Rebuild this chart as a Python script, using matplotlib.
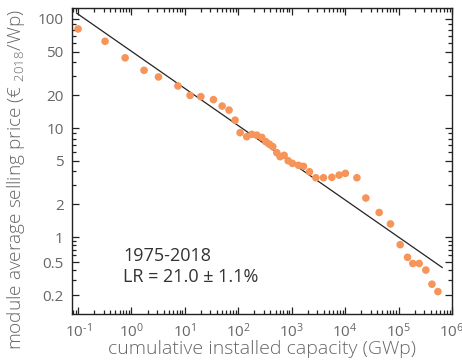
import numpy as np
import matplotlib
matplotlib.use("Agg")
from matplotlib import pyplot as plt
from matplotlib.ticker import FixedLocator, NullFormatter

plt.rcParams['font.family'] = ['Open Sans', 'DejaVu Sans']
plt.rcParams['mathtext.fontset'] = 'custom'
plt.rcParams['mathtext.rm'] = 'Open Sans'

# cumulative installed capacity (GWp) and module price (EUR2018/Wp)
capacity = [0.1, 0.32, 0.76, 1.72, 3.2, 7.4, 12.5, 19.9, 34.2, 49.8, 67, 87,
            108, 144, 179, 222, 275, 327, 383, 442, 526, 607, 721, 857,
            1030, 1340, 1660, 2150, 2830, 3930, 5640, 7720, 10100, 16600,
            24400, 43300, 70500, 107000, 147000, 185000, 243000, 324000,
            421000, 545000]
price = [81, 62.4, 44, 33.8, 29.4, 24.3, 19.9, 19.4, 18.2, 15.9, 14.6, 11.8,
         9.06, 8.32, 8.75, 8.6, 8.2, 7.5, 7.1, 6.74, 5.93, 5.46, 5.62, 5.01,
         4.74, 4.55, 4.45, 3.97, 3.5, 3.5, 3.53, 3.7, 3.84, 3.5,
         2.28, 1.68, 1.32, 0.81, 0.57, 0.48, 0.48, 0.40,
         0.27, 0.22]

# learning curve fit end points
fit_x = [0.094, 655000]
fit_y = [113, 0.43]

y_ticks = [0.2, 0.5, 1, 2, 5, 10, 20, 50, 100]
y_ticklabels = ['0.2', '0.5', '1', '2', '5', '10', '20', '50', '100']
x_ticks = [1e-1, 1e0, 1e1, 1e2, 1e3, 1e4, 1e5, 1e6]
x_ticklabels = [r'$\mathregular{10^{\text{-}1}}$', r'$\mathregular{10^{0}}$',
                r'$\mathregular{10^{1}}$', r'$\mathregular{10^{2}}$',
                r'$\mathregular{10^{3}}$', r'$\mathregular{10^{4}}$',
                r'$\mathregular{10^{5}}$', r'$\mathregular{10^{6}}$']

# the price axis is squeezed below 1
K = 0.76


def fwd(y):
    ly = np.log10(np.clip(y, 1e-6, None))
    return np.where(ly >= 0, ly, ly * K)


def inv(t):
    t = np.asarray(t, dtype=float)
    return np.where(t >= 0, 10 ** t, 10 ** (t / K))


fig = plt.figure(figsize=(4.62, 3.63), dpi=100)
ax = fig.add_axes([72 / 462, 49 / 363, 380 / 462, 306 / 363])

ax.set_xscale('log')
ax.set_yscale('function', functions=(fwd, inv))
ax.set_xlim(0.077, 1e6)
ax.set_ylim(0.118, 126)

ax.plot(fit_x, fit_y, color='#222222', lw=0.9, zorder=2)
ax.scatter(capacity, price, s=30, color='#F69459', edgecolors='none', zorder=3)

ax.yaxis.set_major_locator(FixedLocator(y_ticks))
ax.set_yticklabels(y_ticklabels)
minor_y = [m * 10.0 ** e for e in range(-1, 3) for m in range(1, 10)]
minor_y = [v for v in minor_y if v not in y_ticks and 0.118 < v < 126]
ax.yaxis.set_minor_locator(FixedLocator(minor_y))
ax.yaxis.set_minor_formatter(NullFormatter())

ax.xaxis.set_major_locator(FixedLocator(x_ticks))
ax.set_xticklabels(x_ticklabels)
minor_x = [m * 10.0 ** e for e in range(-2, 6) for m in range(2, 10)]
ax.xaxis.set_minor_locator(FixedLocator([v for v in minor_x if 0.077 < v < 1e6]))
ax.xaxis.set_minor_formatter(NullFormatter())

ax.tick_params(which='both', direction='in', top=True, right=True,
               colors='#222222', labelcolor='#666666', labelsize=11, width=0.9)
ax.tick_params(which='major', length=5, pad=6)
ax.tick_params(which='minor', length=3)
for sp in ax.spines.values():
    sp.set_color('#222222')
    sp.set_linewidth(1.0)

ax.set_xlabel('cumulative installed capacity (GWp)', fontsize=14,
              color='#666666', fontweight='light')
ax.set_ylabel(r'module average selling price (€ $\mathregular{_{2018}}$/Wp)',
              fontsize=13.7, color='#666666', fontweight='light')
ax.xaxis.set_label_coords(0.5, -0.085)
ax.yaxis.set_label_coords(-0.118, 0.44)

ax.text(0.134, 0.22, '1975-2018\nLR = 21.0 ± 1.1%', transform=ax.transAxes,
        fontsize=13, color='#333333', va='top', ha='left', linespacing=1.25)

fig.savefig('out.png', dpi=100)
